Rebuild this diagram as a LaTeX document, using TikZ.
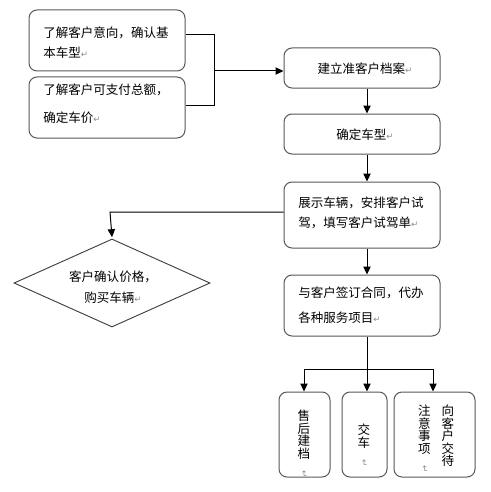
\documentclass[tikz,border=0pt]{standalone}
\usepackage{fontspec}
\setmainfont{Noto Sans CJK SC}
\newfontfamily\symfont{DejaVu Sans}
\usetikzlibrary{arrows.meta,shapes.geometric}
\def\u{0.75pt}
\newcommand{\rmark}{{\symfont\color{black!45}\fontsize{6.5}{6.5}\selectfont ↵}}
\newcommand{\vmark}{\rotatebox{-90}{\rmark}}
\tikzset{
  box/.style={draw=black!65, line width=0.75pt, rounded corners=6pt, inner sep=0pt},
  txt/.style={inner sep=0pt, align=left, anchor=west},
  ctxt/.style={inner sep=0pt, align=center},
  vtxt/.style={inner sep=0pt, align=center, anchor=north, font=\fontsize{9.4}{9.4}\selectfont},
  dia/.style={draw=black!75, line width=0.7pt, diamond, aspect=2.23, inner sep=0pt},
  conn/.style={draw=black, line width=0.75pt},
  arr/.style={conn, -{Triangle[length=6pt,width=5.5pt]}}
}
\begin{document}
\begin{tikzpicture}[x=\u, y=-\u, font=\fontsize{9.4}{15}\selectfont]
\useasboundingbox[fill=white] (0,0) rectangle (491,492);
% left boxes
\node[box, minimum width=156*\u, minimum height=61*\u] (b1) at (107,40.5) {};
\node[txt, font=\fontsize{9.4}{15}\selectfont] (t1) at (43,43) {了解客户意向，确认基\\本车型\rmark};
\node[box, minimum width=156*\u, minimum height=61*\u] (b2) at (107,107.5) {};
\node[txt, font=\fontsize{9.4}{21}\selectfont] (t2) at (43,104) {了解客户可支付总额，\\确定车价\rmark};
% main column
\node[box, minimum width=156*\u, minimum height=40*\u] (b3) at (362,68) {};
\node[ctxt] (t3) at (365,69) {建立准客户档案\rmark};
\node[box, minimum width=156*\u, minimum height=40*\u] (b4) at (362,134) {};
\node[ctxt] (t4) at (365,135) {确定车型\rmark};
\node[box, minimum width=156*\u, minimum height=66*\u] (b5) at (362,215) {};
\node[txt, font=\fontsize{9.4}{15}\selectfont] (t5) at (298,213) {展示车辆，安排客户试\\驾，填写客户试驾单\rmark};
\node[box, minimum width=156*\u, minimum height=61*\u] (b6) at (362,305.5) {};
\node[txt, font=\fontsize{9.4}{18.75}\selectfont] (t6) at (298,305.5) {与客户签订合同，代办\\各种服务项目\rmark};
% diamond
\node[dia, minimum width=196*\u, minimum height=88*\u] (d) at (112,283) {};
\node[ctxt, font=\fontsize{9.4}{15.75}\selectfont] (td) at (113,287.5) {客户确认价格，\\购买车辆\rmark};
% bottom boxes
\node[box, minimum width=51*\u, minimum height=85*\u] (s1) at (304.5,434.5) {};
\node[vtxt] (v1) at (304,410) {售\\后\\建\\档\\\vmark};
\node[box, minimum width=45*\u, minimum height=85*\u] (s2) at (364.5,434.5) {};
\node[vtxt] (v2) at (364,424) {交\\车\\\vmark};
\node[box, minimum width=81*\u, minimum height=85*\u] (s3) at (434.5,434.5) {};
\node[vtxt] (v3) at (448,405) {向\\客\\户\\交\\待};
\node[vtxt] (v4) at (424.5,405) {注\\意\\事\\项\\\vmark};
% coordinates
\coordinate (ax) at (367,0);
\coordinate (j1) at (214,35);
\coordinate (j2) at (214,105);
\coordinate (jm) at (214,71);
\coordinate (dl) at (110,212);
\coordinate (hb) at (367,369);
\coordinate (ha) at (304,369);
\coordinate (hc) at (433,369);
% connectors
\draw[conn] (b1.east |- j1) -- (j1) -- (j2) -- (b2.east |- j2);
\draw[arr] (jm) -- (b3.west |- jm);
\draw[arr] (b3.south -| ax) -- (b4.north -| ax);
\draw[arr] (b4.south -| ax) -- (b5.north -| ax);
\draw[arr] (b5.south -| ax) -- (b6.north -| ax);
\draw[arr] (b5.west |- dl) -- (dl) -- ([yshift=1pt]d.north);
\draw[conn] (b6.south -| ax) -- (hb);
\draw[arr] (ha) -- (s1.north -| ha);
\draw[arr] (hb) -- (s2.north -| hb);
\draw[arr] (hc) -- (s3.north -| hc);
\draw[conn] (ha) -- (hc);
\end{tikzpicture}
\end{document}
